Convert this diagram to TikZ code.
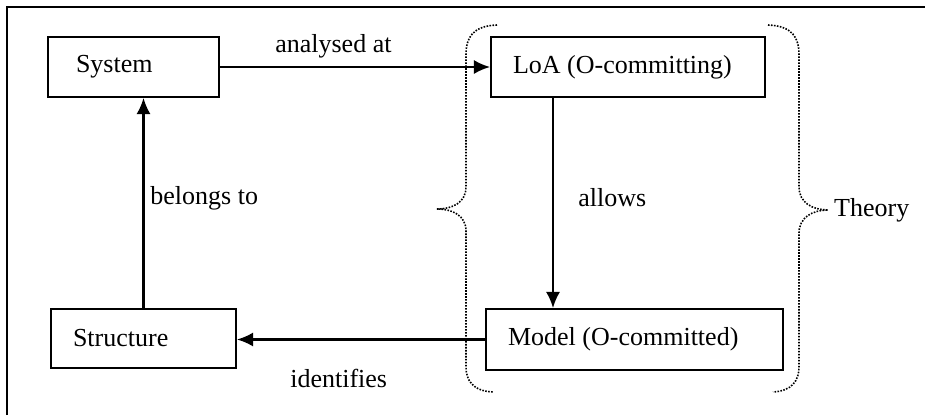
\documentclass[tikz,border=0pt]{standalone}
\usepackage{fontspec}
\setmainfont{Liberation Serif}
\usetikzlibrary{arrows.meta}

\begin{document}
\begin{tikzpicture}[>={Latex[length=0.32cm,width=0.28cm]},
   font=\fontsize{14.8pt}{17pt}\selectfont,
   box/.style={draw, line width=1.15pt, minimum height=1.2cm, inner xsep=0.44cm, align=flush left},
   link/.style={->, line width=1.15pt},
   bracket/.style={line width=0.9pt, dash pattern=on 0.9pt off 0.8pt}]
   \useasboundingbox (0,0) rectangle (18.5,8.3);
   \draw[line width=0.6pt] (0.14,0) -- (0.14,8.16) -- (18.5,8.16);

   \node[box, inner xsep=0.56cm, text width=2.30cm] (sys) at (2.67,6.96) {System};
   \node[box, text width=4.60cm] (loa) at (12.56,6.96) {LoA (O-committing)};
   \node[box, text width=5.06cm, minimum height=1.22cm] (mod) at (12.69,1.51) {Model (O-committed)};
   \node[box, text width=2.82cm, minimum height=1.18cm] (str) at (2.87,1.53) {Structure};

   \draw[link] (sys) -- node[above, pos=0.42, yshift=0.05cm] {analysed at} (loa);
   \draw[link] ([xshift=-1.5cm]loa.south) -- node[right, xshift=0.37cm, yshift=0.1cm] {allows} ([xshift=-1.5cm]loa.south |- mod.north);
   \draw[link] (mod.west) -- node[below, pos=0.59, yshift=-0.45cm] {identifies} (mod.west -| str.east);
   \draw[link] (str.north) -- node[right, yshift=0.1cm] {belongs to} (str.north |- sys.south);

   % theory braces
   \coordinate (lt) at (8.74,4.12);
   \coordinate (rt) at (16.56,4.10);
   \draw[bracket] (9.94,7.80) .. controls (9.45,7.78) and (9.32,7.55) .. (9.32,7.2) -- (9.32,4.56)
      .. controls (9.32,4.25) and (9.05,4.12) .. (lt)
      .. controls (9.05,4.12) and (9.32,3.99) .. (9.32,3.68) -- (9.32,0.96)
      .. controls (9.32,0.70) and (9.45,0.48) .. (9.86,0.46);
   \draw[bracket] (15.36,7.80) .. controls (15.85,7.78) and (15.98,7.55) .. (15.98,7.2) -- (15.98,4.56)
      .. controls (15.98,4.25) and (16.25,4.10) .. (rt)
      .. controls (16.25,4.10) and (15.98,3.95) .. (15.98,3.64) -- (15.98,0.96)
      .. controls (15.98,0.70) and (15.85,0.48) .. (15.46,0.46);
   \node[right] (thy) at (rt) {Theory};
\end{tikzpicture}
\end{document}
